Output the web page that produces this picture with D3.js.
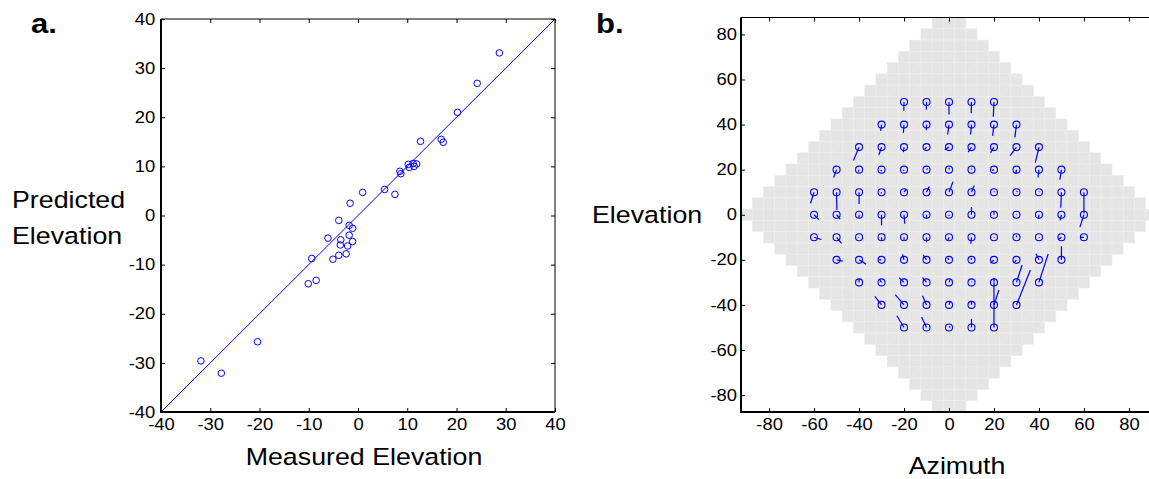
<!DOCTYPE html>
<html>
<head>
<meta charset="utf-8">
<script src="https://cdn.jsdelivr.net/npm/d3@7"></script>
<style>
  body { margin: 0; background: #fff; }
  text { font-family: "Liberation Sans", Arial, Helvetica, sans-serif; fill: #000; }
</style>
</head>
<body>
<div id="chart"></div>
<script>
// panel a: measured vs predicted elevation
var measured = [28.7, 24.2, 20.2, 12.7, 16.9, 17.3, 10.2, 10.4, 11.2, 11.9, 11.4, 8.5, 8.7, 5.4, 7.5,
  0.95, -1.6, -3.9, -1.8, -1.1, -6.1, -3.5, -1.8, -3.6, -2.1, -1.1, -3.9, -2.4, -5.1, -9.4,
  -10.1, -8.5, -20.4, -31.9, -27.75];
var predicted = [33.1, 26.9, 21.0, 15.1, 15.5, 14.9, 10.4, 9.8, 10.6, 10.5, 10.0, 9.0, 8.5, 5.3, 4.3,
  4.7, 2.5, -1.0, -2.0, -2.6, -4.6, -4.95, -4.0, -6.0, -6.2, -5.3, -8.1, -7.8, -8.9, -8.75,
  -13.9, -13.2, -25.7, -29.6, -32.1];
var ticksA = [-40, -30, -20, -10, 0, 10, 20, 30, 40];

// panel b: target grid (azimuth per row) and predicted location of each target
var rowElev = [50, 40, 30, 20, 10, 0, -10, -20, -30, -40, -50];
var rowAz = [
  [-20, -10, 0, 10, 20],
  [-30, -20, -10, 0, 10, 20, 30],
  [-40, -30, -20, -10, 0, 10, 20, 30, 40],
  [-50, -40, -30, -20, -10, 0, 10, 20, 30, 40, 50],
  [-60, -50, -40, -30, -20, -10, 0, 10, 20, 30, 40, 50, 60],
  [-60, -50, -40, -30, -20, -10, 0, 10, 20, 30, 40, 50, 60],
  [-60, -50, -40, -30, -20, -10, 0, 10, 20, 30, 40, 50, 60],
  [-50, -40, -30, -20, -10, 0, 10, 20, 30, 40, 50],
  [-40, -30, -20, -10, 0, 10, 20, 30, 40],
  [-30, -20, -10, 0, 10, 20, 30],
  [-20, -10, 0, 10, 20]
];
var predAz = [
  [-20.1, -10.1, 0, 9.9, 19.7],
  [-30.4, -20.3, -10.1, -0.6, 9.6, 19.4, 29.3],
  [-42.5, -31.2, -20.3, -10.8, -1.9, 8.5, 18.5, 27.2, 38.4],
  [-51.3, -40.3, -30.3, -20.2, -9.4, 0.1, 10.1, 19.1, 29.7, 39.6, 49.3],
  [-61.6, -49.9, -40, -30.2, -19.0, -8.8, 1.8, 11.2, 20.2, 30.4, 40.2, 49.7, 60],
  [-57.9, -48.4, -40, -30, -19.7, -10, 0, 10, 20, 30.2, 39.8, 49.4, 58.2],
  [-56.8, -47.8, -40.2, -30, -20, -10, -0.5, 9.7, 20.2, 30, 40.2, 48.7, 58.5],
  [-47.3, -36.9, -31.3, -20.7, -11.5, -0.6, 9.8, 18.5, 28.8, 38.7, 50],
  [-40, -30.7, -22.2, -11.8, 0.4, 10.2, 20, 32.5, 44.1],
  [-33.0, -23.9, -11.8, 0.6, 10, 22.2, 36.2],
  [-23.2, -12.2, 0.5, 10, 20]
];
var predEl = [
  [46.1, 46.7, 44.5, 45.0, 43.5],
  [37.2, 36.3, 37.5, 35.6, 35.6, 35.0, 34.3],
  [24.1, 26.5, 27.8, 29.0, 28.8, 27.8, 27.5, 26.2, 23.1],
  [16.5, 19.2, 19.3, 19.4, 20.6, 20.8, 20.4, 19.7, 18.0, 16.5, 15.6],
  [5.1, 2.2, 4.8, 9.4, 11.5, 12.5, 14.7, 13.0, 10.4, 10.5, 10.3, 3.1, 0.5],
  [-2.2, -1.9, -1.3, -4.7, -4.0, -1.6, -0.5, 3.4, 1.5, 0.2, -1.8, -2.5, -5.5],
  [-11.0, -12.7, -10.2, -11.5, -11.2, -12.2, -11.5, -12.8, -10.2, -9.2, -10.3, -11.0, -10.0],
  [-20.6, -21.9, -20.0, -17.6, -17.8, -19.3, -19.2, -21.5, -21.5, -17.3, -14.0],
  [-28.5, -29.0, -27.9, -27.9, -29.0, -29.6, -28.2, -22.3, -17.4],
  [-36.2, -35.4, -35.9, -38.2, -38.4, -33.4, -24.5],
  [-44.8, -45.4, -49.5, -46.2, -30.2]
];

// grey coverage area: one row of 5-degree cells per elevation, half width in azimuth
var maskElev = [85, 80, 75, 70, 65, 60, 55, 50, 45, 40, 35, 30, 25, 20, 15, 10, 5, 0,
  -5, -10, -15, -20, -25, -30, -35, -40, -45, -50, -55, -60, -65, -70, -75, -80, -85];
var maskHalfAz = [5, 10, 15, 20, 25, 30, 35, 40, 45, 50, 55, 60, 65, 70, 75, 80, 85, 90,
  85, 80, 75, 70, 65, 60, 55, 50, 45, 40, 35, 30, 25, 20, 15, 10, 5];
var ticksB = [-80, -60, -40, -20, 0, 20, 40, 60, 80];

var W = 1149, H = 479, SX = 1.15;
var blue = "#0000ff";

var svg = d3.select("#chart").append("svg")
  .attr("width", W).attr("height", H);

function label(x, y, str, size, anchor, bold) {
  svg.append("text")
    .attr("transform", "translate(" + x + "," + y + ") scale(" + SX + ",1)")
    .attr("text-anchor", anchor)
    .attr("font-size", size)
    .attr("font-weight", bold ? "bold" : "normal")
    .text(str);
}

// plain hyphen for negatives, like the original
var fmt = function(d){ return String(d); };

function frame(g, x, y, ticksX, ticksY, padY) {
  var x0 = x.range()[0], x1 = x.range()[1], y0 = y.range()[0], y1 = y.range()[1];
  var ax = d3.axisBottom(x).tickValues(ticksX).tickSizeInner(-4).tickSizeOuter(0).tickPadding(7).tickFormat(fmt);
  var ay = d3.axisLeft(y).tickValues(ticksY).tickSizeInner(-4).tickSizeOuter(0).tickPadding(padY).tickFormat(fmt);
  var at = d3.axisTop(x).tickValues(ticksX).tickSizeInner(-4).tickSizeOuter(0).tickFormat("");
  var ar = d3.axisRight(y).tickValues(ticksY).tickSizeInner(-4).tickSizeOuter(0).tickFormat("");
  var gs = [
    g.append("g").attr("transform", "translate(0," + y0 + ")").call(ax),
    g.append("g").attr("transform", "translate(" + x0 + ",0)").call(ay),
    g.append("g").attr("transform", "translate(0," + y1 + ")").call(at),
    g.append("g").attr("transform", "translate(" + x1 + ",0)").call(ar)
  ];
  gs.forEach(function(a){
    a.select(".domain").remove();
    a.selectAll("line").attr("stroke", "#000").attr("stroke-width", 1);
    a.selectAll("text")
      .attr("font-size", 16)
      .attr("fill", "#000")
      .attr("font-family", "Liberation Sans, Arial, sans-serif")
      .attr("transform", "scale(" + SX + ",1)");
  });
  g.append("line").attr("x1", x0).attr("x2", x1).attr("y1", y1).attr("y2", y1)
    .attr("stroke", "#000").attr("stroke-width", 1);
  g.append("line").attr("x1", x1).attr("x2", x1).attr("y1", y0).attr("y2", y1)
    .attr("stroke", "#000").attr("stroke-width", 1);
  g.append("line").attr("x1", x0).attr("x2", x1).attr("y1", y0).attr("y2", y0)
    .attr("stroke", "#000").attr("stroke-width", 2);
  g.append("line").attr("x1", x0).attr("x2", x0).attr("y1", y0 + 1).attr("y2", y1)
    .attr("stroke", "#000").attr("stroke-width", 2);
}

// ---------- panel a ----------
var xa = d3.scaleLinear().domain([-40, 40]).range([161, 555]);
var ya = d3.scaleLinear().domain([-40, 40]).range([412, 19]);
var ga = svg.append("g");

ga.append("line")
  .attr("x1", xa(-40)).attr("y1", ya(-40))
  .attr("x2", xa(40)).attr("y2", ya(40))
  .attr("stroke", blue).attr("stroke-width", 1);

ga.selectAll(".pt").data(measured).enter().append("circle")
  .attr("class", "pt")
  .attr("cx", function(d){ return xa(d); })
  .attr("cy", function(d, i){ return ya(predicted[i]); })
  .attr("r", 3.3)
  .attr("fill", "none")
  .attr("stroke", blue)
  .attr("stroke-width", 1);

frame(ga, xa, ya, ticksA, ticksA, 5);

// ---------- panel b ----------
var xb = d3.scaleLinear().domain([-92.5, 92.5]).range([741, 1157]);
var yb = d3.scaleLinear().domain([-87.5, 87.5]).range([412, 17.5]);
var gb = svg.append("g");

gb.append("clipPath").attr("id", "clipb").append("rect")
  .attr("x", xb(-92.5)).attr("y", yb(87.5))
  .attr("width", xb(92.5) - xb(-92.5)).attr("height", yb(-87.5) - yb(87.5));

var cells = [];
maskElev.forEach(function(e, i){
  for (var a = -maskHalfAz[i]; a <= maskHalfAz[i]; a += 5) cells.push({az: a, el: e});
});
var cw = xb(5) - xb(0), ch = yb(0) - yb(5);
var cg = gb.append("g").attr("clip-path", "url(#clipb)");
cg.selectAll("rect.cell").data(cells).enter().append("rect")
  .attr("class", "cell")
  .attr("x", function(d){ return xb(d.az - 2.5); })
  .attr("y", function(d){ return yb(d.el + 2.5); })
  .attr("width", cw).attr("height", ch)
  .attr("fill", "#e5e5e5")
  .attr("stroke", "#ededed")
  .attr("stroke-width", 0.6);
cg.selectAll("line.diag").data(cells).enter().append("line")
  .attr("class", "diag")
  .attr("x1", function(d){ return xb(d.az - 2.5); })
  .attr("y1", function(d){ return yb(d.el - 2.5); })
  .attr("x2", function(d){ return xb(d.az + 2.5); })
  .attr("y2", function(d){ return yb(d.el + 2.5); })
  .attr("stroke", "#ebebeb")
  .attr("stroke-width", 0.5);

var targets = [];
rowElev.forEach(function(e, r){
  rowAz[r].forEach(function(a, c){
    targets.push({az: a, el: e, paz: predAz[r][c], pel: predEl[r][c]});
  });
});

gb.selectAll("line.err").data(targets).enter().append("line")
  .attr("class", "err")
  .attr("x1", function(d){ return xb(d.az); })
  .attr("y1", function(d){ return yb(d.el); })
  .attr("x2", function(d){ return xb(d.paz); })
  .attr("y2", function(d){ return yb(d.pel); })
  .attr("stroke", blue).attr("stroke-width", 1.2);

gb.selectAll("circle.tg").data(targets).enter().append("circle")
  .attr("class", "tg")
  .attr("cx", function(d){ return xb(d.az); })
  .attr("cy", function(d){ return yb(d.el); })
  .attr("r", 3.5)
  .attr("fill", "none")
  .attr("stroke", blue)
  .attr("stroke-width", 1.1);

frame(gb, xb, yb, ticksB, ticksB, 3.5);

// ---------- labels ----------
label(31, 33, "a.", 27, "start", true);
label(596, 33, "b.", 27, "start", true);
label(12, 208, "Predicted", 23.3, "start");
label(12, 244, "Elevation", 23.3, "start");
label(364, 465, "Measured Elevation", 23.3, "middle");
label(592, 223, "Elevation", 23.3, "start");
label(957, 474, "Azimuth", 23.3, "middle");
</script>
</body>
</html>
